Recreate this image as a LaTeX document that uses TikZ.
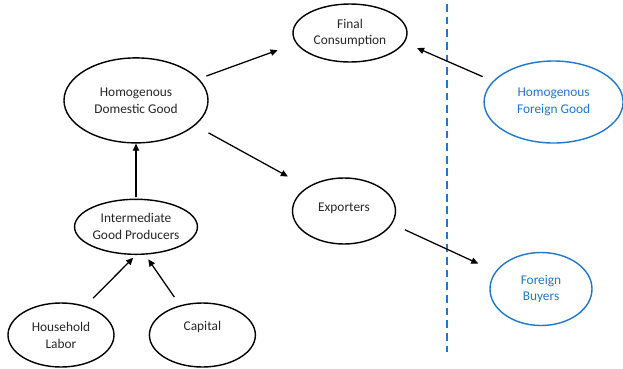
\documentclass[tikz,border=0pt]{standalone}
\usepackage{fontspec}
\setmainfont{Carlito}
\usepackage{xcolor}
\usetikzlibrary{arrows.meta, positioning, shapes.geometric, calc}

\definecolor{foreignblue}{RGB}{30,120,205}

\begin{document}
\begin{tikzpicture}[
    good/.style={draw, ellipse, line width=1pt, inner sep=0pt, align=center, text=black!85, font=\fontsize{9.5}{12}\selectfont},
    foreign/.style={good, draw=foreignblue, text=foreignblue},
    line/.style={draw, -{Triangle[length=5pt, width=4.5pt]}, line width=0.9pt},
    border/.style={draw=foreignblue, line width=1.4pt, dash pattern=on 5.5pt off 3.5pt}
]
    \useasboundingbox (0,0) rectangle (15.575,-9.2);

    \node[good, minimum width=3.6cm, minimum height=2.125cm] (hdg) at (3.4,-2.51) {Homogenous\\Domestic Good};
    \node[good, minimum width=2.85cm, minimum height=1.45cm] (fc) at (8.75,-0.825) {Final\\Consumption};
    \node[good, minimum width=2.575cm, minimum height=1.65cm] (exp) at (8.6,-5.275) {\raisebox{2pt}[7pt][2pt]{Exporters}};
    \node[good, minimum width=3cm, minimum height=1.375cm, below=1.375cm of hdg] (igp) {Intermediate\\Good Producers};
    \node[good, minimum width=2.65cm, minimum height=1.6cm] (labor) at (1.525,-8.375) {Household\\Labor};
    \node[good, minimum width=2.65cm, minimum height=1.6cm, right=0.85cm of labor] (cap) {\raisebox{5.5pt}[7pt][2pt]{Capital}};

    \node[foreign, minimum width=3.475cm, minimum height=2.05cm] (hfg) at (13.84,-2.55) {Homogenous\\Foreign Good};
    \node[foreign, minimum width=2.55cm, minimum height=1.825cm] (fb) at (13.525,-7.225) {Foreign\\Buyers};

    % home / abroad border
    \coordinate (btop) at (11.17,-0.1);
    \coordinate (bbot) at (11.17,-8.8);
    \draw[border] (btop) -- (bbot);

    \draw[line, shorten <=0.2cm, shorten >=0.49cm] (hdg.19.5) -- (fc.191.8);
    \draw[line, shorten <=0.38cm, shorten >=0.55cm] (hdg.-23.6) -- (exp.147.5);
    \draw[line, shorten <=0.28cm, shorten >=0.34cm] (hfg.161.2) -- (fc.-10.2);
    \draw[line, shorten <=0.35cm, shorten >=0.47cm] (exp.-15.6) -- (fb.159.1);
    \draw[line, shorten <=0.03cm] (igp.north) -- (hdg.south);
    \draw[line, shorten <=0.27cm, shorten >=0.1cm] (labor.50) -- (igp.270);
    \draw[line, shorten <=0.25cm, shorten >=0.14cm] (cap.127) -- (igp.-72.4);
\end{tikzpicture}
\end{document}
